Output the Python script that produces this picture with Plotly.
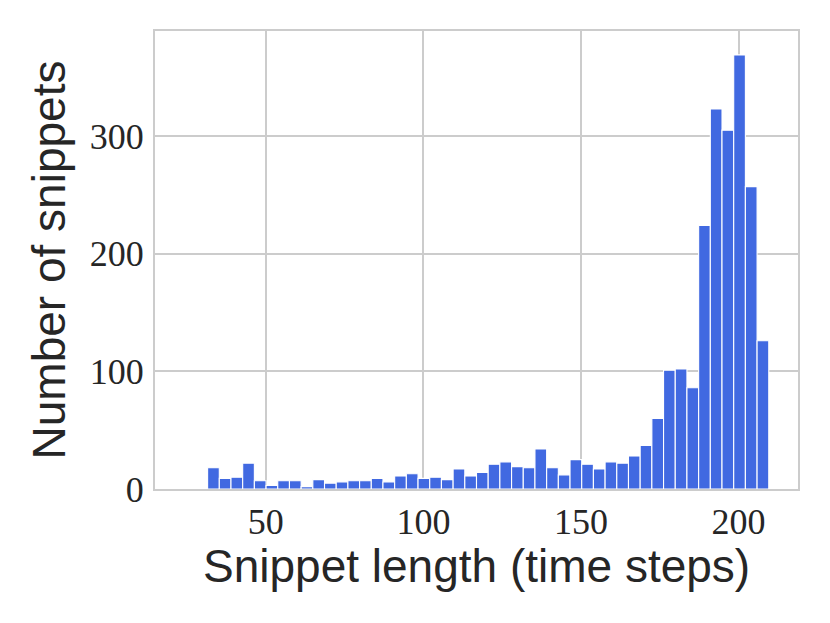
import plotly.graph_objects as go

# Histogram data (50 equal-width bins; first two bins are empty)
BIN_START = 24.1
BIN_WIDTH = 3.71
counts = [0, 0,
          18, 9, 10, 22, 7, 3, 7, 7, 2, 8,
          5, 6, 7, 7, 9, 6, 11, 13, 9, 10,
          8, 17, 11, 14, 21, 23, 19, 18, 34, 18,
          12, 25, 21, 17, 23, 22, 28, 37, 60, 101,
          102, 86, 224, 323, 305, 369, 257, 126]

x_ticks = [50, 100, 150, 200]
y_ticks = [0, 100, 200, 300]
x_title = "Snippet length (time steps)"
y_title = "Number of snippets"

centers = [BIN_START + (i + 0.5) * BIN_WIDTH for i in range(len(counts))]
x_min = BIN_START - 0.05 * BIN_WIDTH * len(counts)
x_max = BIN_START + 1.05 * BIN_WIDTH * len(counts)
y_max = max(counts) * 1.055

fig = go.Figure(go.Bar(
    x=centers, y=counts, width=BIN_WIDTH,
    marker=dict(color="#4169E1", line=dict(color="white", width=1.1)),
))

tick_font = dict(family="Liberation Serif, DejaVu Serif, serif", size=36, color="#262626")
title_font = dict(family="Liberation Sans, Arial, sans-serif", size=46, color="#262626")

fig.update_layout(
    width=830, height=623,
    margin=dict(l=147, r=40, t=23, b=142),
    paper_bgcolor="white", plot_bgcolor="white",
    showlegend=False, bargap=0.1,
    xaxis=dict(
        range=[x_min, x_max], tickvals=x_ticks, ticktext=[str(t) for t in x_ticks],
        tickfont=tick_font, showgrid=True, gridcolor="#cccccc", gridwidth=1.6,
        showline=True, linecolor="#cccccc", linewidth=2.2, mirror=True,
        ticks="", zeroline=False, ticklabelstandoff=0,
    ),
    yaxis=dict(
        range=[0, y_max], tickvals=y_ticks, ticktext=[str(t) for t in y_ticks],
        tickfont=tick_font, showgrid=True, gridcolor="#cccccc", gridwidth=1.6,
        showline=True, linecolor="#cccccc", linewidth=2.2, mirror=True,
        ticks="", zeroline=False, ticklabelstandoff=2,
        title=dict(text=y_title, font=title_font, standoff=10),
    ),
    annotations=[dict(
        text=x_title, font=title_font, showarrow=False,
        xref="paper", yref="paper", x=0.5, y=0,
        xanchor="center", yanchor="middle", yshift=-77,
    )],
)

fig.write_html("out.html")
